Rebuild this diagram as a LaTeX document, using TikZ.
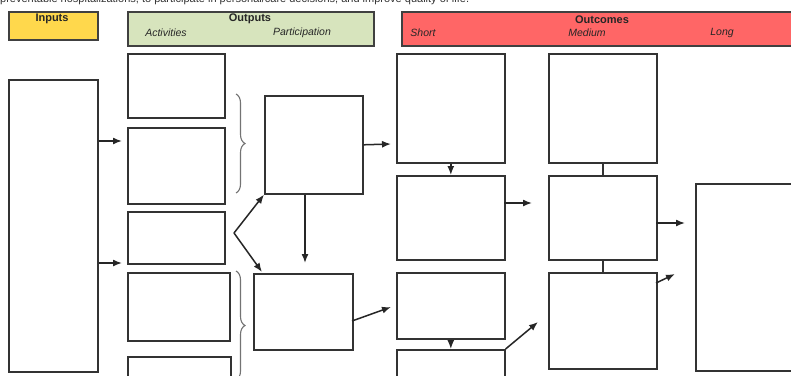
\documentclass[tikz,border=0pt]{standalone}
\usepackage{fontspec}
\setmainfont{Liberation Sans}
\usetikzlibrary{arrows.meta,decorations.pathreplacing}
\definecolor{inyellow}{HTML}{FFD84C}
\definecolor{outgreen}{HTML}{D7E4BD}
\definecolor{ocred}{HTML}{FF6666}
\tikzset{
  box/.style={draw=black!80,line width=1.6pt,anchor=north west,inner sep=0pt},
  hdr/.style={box,draw=black!75,line width=1.8pt},
  arr/.style={line width=1.5pt,draw=black!85,-{Latex[length=9pt,width=7pt]}},
  brc/.style={draw=black!55,line width=1.1pt,decorate,decoration={brace,amplitude=9pt}},
  ttl/.style={font=\fontsize{11}{13}\selectfont\bfseries,text=black!85,inner sep=0pt},
  sub/.style={font=\fontsize{10.5}{13}\selectfont\itshape,text=black!85,inner sep=0pt}
}
\begin{document}
\begin{tikzpicture}[x=1pt,y=-1pt]
\useasboundingbox (0,0) rectangle (791,375);
\clip (0,0) rectangle (791,375);
\fill[white] (0,0) rectangle (791,375);
% cut-off line of text above
\node[anchor=base west,inner sep=0pt,font=\fontsize{11}{13}\selectfont,text=black!80] (intro) at (0,2.5)
  {preventable hospitalizations, to participate in personal/care decisions, and improve quality of life.};
% headers
\node[hdr,fill=inyellow,minimum width=89,minimum height=28] (hin) at (8,11) {};
\node[hdr,fill=outgreen,minimum width=246,minimum height=34] (hout) at (127,11) {};
\node[hdr,fill=ocred,minimum width=420,minimum height=34] (hoc) at (401,11) {};
\node[ttl] (tin) at (52,19) {Inputs};
\node[ttl] (tout) at (250,19) {Outputs};
\node[sub] (tact) at (166,33) {Activities};
\node[sub] (tpart) at (302,33) {Participation};
\node[ttl] (toc) at (602,20) {Outcomes};
\node[sub] (tshort) at (423,33) {Short};
\node[sub] (tmed) at (587,33) {Medium};
\node[sub] (tlong) at (722,33) {Long};
% inputs
\node[box,minimum width=89,minimum height=292] (in) at (8,79) {};
% activities
\node[box,minimum width=97,minimum height=64] (a1) at (127,53) {};
\node[box,minimum width=97,minimum height=76] (a2) at (127,127) {};
\node[box,minimum width=97,minimum height=52] (a3) at (127,211) {};
\node[box,minimum width=102,minimum height=68] (a4) at (127,272) {};
\node[box,minimum width=103,minimum height=40] (a5) at (127,356) {};
% participation
\node[box,minimum width=98,minimum height=98] (p1) at (264,95) {};
\node[box,minimum width=99,minimum height=76] (p2) at (253,273) {};
% short
\node[box,minimum width=108,minimum height=109] (s1) at (396,53) {};
\node[box,minimum width=108,minimum height=84] (s2) at (396,175) {};
\node[box,minimum width=108,minimum height=66] (s3) at (396,272) {};
\node[box,minimum width=108,minimum height=40] (s4) at (396,349) {};
% medium
\node[box,minimum width=108,minimum height=109] (m1) at (548,53) {};
\node[box,minimum width=108,minimum height=84] (m2) at (548,175) {};
\node[box,minimum width=108,minimum height=96] (m3) at (548,272) {};
% long
\node[box,minimum width=120,minimum height=187] (lg) at (695,183) {};
% braces
\draw[brc] (236,94) -- (236,193);
\draw[brc] (236,271) -- (236,380);
% free ends
\coordinate (e1) at (122,141);
\coordinate (e2) at (122,263);
\coordinate (fk) at (234,233);
\coordinate (p2in) at (262,272);
\coordinate (e3) at (305,263);
\coordinate (e4) at (391,144);
\coordinate (p2out) at (352,321);
\coordinate (e5) at (391,307);
\coordinate (s2out) at (504,203);
\coordinate (e6) at (532,203);
\coordinate (e7) at (538,322);
\coordinate (m2out) at (656,223);
\coordinate (e8) at (685,223);
\coordinate (m3out) at (656,283);
\coordinate (e9) at (675,274);
% connectors
\draw[arr] (in.east |- e1) -- (e1);
\draw[arr] (in.east |- e2) -- (e2);
\draw[arr] (fk) -- (p1.south west);
\draw[arr] (fk) -- (p2in);
\draw[arr] (p1.south -| e3) -- (e3);
\draw[arr] (p1.east) -- (e4);
\draw[arr] (p2out) -- (e5);
\draw[arr] (s1.south) -- (s2.north);
\draw[arr] (s3.south) -- (s4.north);
\draw[arr] (s2out) -- (e6);
\draw[arr] (s4.north east) -- (e7);
\draw[line width=1.5pt,black!80] (m1.south) -- (m2.north);
\draw[line width=1.5pt,black!80] (m2.south) -- (m3.north);
\draw[arr] (m2out) -- (e8);
\draw[arr] (m3out) -- (e9);
\end{tikzpicture}
\end{document}
